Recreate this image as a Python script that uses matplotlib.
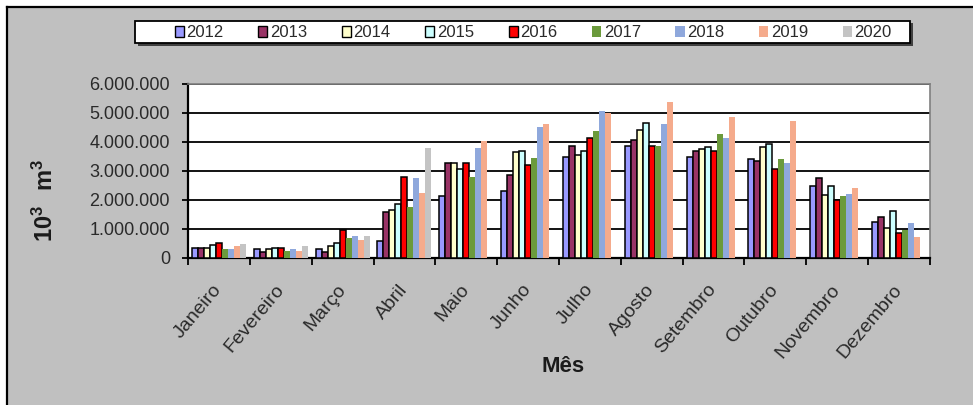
import numpy as np
import matplotlib.pyplot as plt
from matplotlib.patches import Rectangle, Patch
from matplotlib.ticker import FuncFormatter, FixedLocator

plt.rcParams['font.family'] = ['Liberation Sans', 'DejaVu Sans']
plt.rcParams['mathtext.fontset'] = 'custom'
plt.rcParams['mathtext.rm'] = 'Liberation Sans'
plt.rcParams['mathtext.bf'] = 'Liberation Sans:bold'

meses = ['Janeiro', 'Fevereiro', 'Março', 'Abril', 'Maio', 'Junho', 'Julho',
         'Agosto', 'Setembro', 'Outubro', 'Novembro', 'Dezembro']
anos = ['2012', '2013', '2014', '2015', '2016', '2017', '2018', '2019', '2020']

# volumes mensais (10^3 m^3)
v2012 = [345000, 290000, 290000, 560000, 2140000, 2290000, 3490000, 3850000, 3470000, 3400000, 2470000, 1240000]
v2013 = [345000, 200000, 200000, 1560000, 3280000, 2850000, 3850000, 4070000, 3680000, 3330000, 2760000, 1400000]
v2014 = [330000, 280000, 410000, 1630000, 3280000, 3640000, 3550000, 4410000, 3750000, 3820000, 2160000, 1030000]
v2015 = [420000, 340000, 500000, 1840000, 3060000, 3700000, 3700000, 4640000, 3820000, 3910000, 2470000, 1610000]
v2016 = [500000, 340000, 940000, 2780000, 3280000, 3210000, 4140000, 3840000, 3700000, 3050000, 1980000, 830000]
v2017 = [310000, 240000, 660000, 1750000, 2800000, 3450000, 4370000, 3870000, 4280000, 3410000, 2130000, 940000]
v2018 = [310000, 310000, 750000, 2750000, 3800000, 4530000, 5080000, 4600000, 4140000, 3280000, 2210000, 1200000]
v2019 = [390000, 240000, 600000, 2230000, 4020000, 4600000, 4990000, 5370000, 4850000, 4710000, 2410000, 720000]
v2020 = [460000, 390000, 750000, 3790000, np.nan, np.nan, np.nan, np.nan, np.nan, np.nan, np.nan, np.nan]

series = [v2012, v2013, v2014, v2015, v2016, v2017, v2018, v2019, v2020]
cores = ['#9999ff', '#993366', '#ffffcc', '#ccffff', '#ff0000',
         '#6b9a3c', '#8fa8dc', '#f5ab8c', '#c4c4c4']
com_borda = [True, True, True, True, True, False, False, False, False]

W, H = 973, 405
fig = plt.figure(figsize=(W / 100, H / 100), dpi=100)
fig.patch.set_facecolor('white')

# fundo cinza da area do grafico
fig.add_artist(Rectangle((7 / W, 0), 1, (H - 7) / H, transform=fig.transFigure,
                         facecolor='#c0c0c0', edgecolor='none', zorder=-10))
fig.add_artist(plt.Line2D([7 / W, 1], [(H - 7) / H] * 2, color='black', lw=1.6, zorder=-5))
fig.add_artist(plt.Line2D([7 / W] * 2, [0, (H - 7) / H], color='black', lw=1.6, zorder=-5))

# caixa da legenda com sombra
fig.add_artist(Rectangle((138 / W, 1 - 45.5 / H), 775 / W, 22 / H, transform=fig.transFigure,
                         facecolor='#404040', edgecolor='none', zorder=-4))
fig.add_artist(Rectangle((135 / W, 1 - 42.7 / H), 775 / W, 22 / H, transform=fig.transFigure,
                         facecolor='white', edgecolor='black', lw=1.3, zorder=-3))

ax = fig.add_axes([188 / W, 147.5 / H, 742 / W, 173.5 / H])
ax.set_facecolor('white')

x = np.arange(len(meses))
w = 0.097
for j, (vals, cor, borda) in enumerate(zip(series, cores, com_borda)):
    ax.bar(x + (j - 4) * w, vals, width=w, color=cor,
           edgecolor='black' if borda else 'none', linewidth=1.1 if borda else 0,
           zorder=3, label=anos[j])

ax.set_xlim(-0.5, 11.5)
ax.set_ylim(0, 6000000)
ax.set_yticks(np.arange(0, 6000001, 1000000))
ax.yaxis.set_major_formatter(FuncFormatter(lambda v, p: f'{int(v):,}'.replace(',', '.')))
ax.yaxis.grid(True, color='black', linewidth=1.3, zorder=1)
ax.set_axisbelow(True)

ax.xaxis.set_major_locator(FixedLocator(x))
ax.xaxis.set_minor_locator(FixedLocator(np.arange(-0.5, 12, 1)))
ax.set_xticklabels(meses, rotation=50, ha='right', va='center', rotation_mode='anchor',
                   fontsize=14, color='#2a2a2a')
ax.tick_params(axis='x', which='major', length=0, pad=21)
ax.tick_params(axis='x', which='minor', length=5, width=1.3, direction='out', color='black')
ax.tick_params(axis='y', length=4, width=1.3, direction='out', pad=9, labelsize=13,
               labelcolor='#2a2a2a')

for s in ['top', 'right']:
    ax.spines[s].set_color('#808080')
    ax.spines[s].set_linewidth(1.2)
for s in ['left', 'bottom']:
    ax.spines[s].set_color('black')
    ax.spines[s].set_linewidth(1.6)

fig.text(45 / W, 1 - 200 / H, r'$\mathbf{10^3\ \ m^3}$', rotation=90, ha='center', va='center',
         fontsize=17, color='#1a1a1a')
fig.text(563 / W, 1 - 366 / H, 'Mês', ha='center', va='center',
         fontsize=16, fontweight='bold', color='#1a1a1a')

handles = [Patch(facecolor=c, edgecolor='black' if b else 'none', linewidth=1.0 if b else 0)
           for c, b in zip(cores, com_borda)]
leg = fig.legend(handles, anos, ncol=9, loc='lower left',
                 bbox_to_anchor=(172 / W, 1 - 42.7 / H, 722 / W, 22 / H),
                 mode='expand', frameon=False, fontsize=12, handlelength=0.55,
                 handleheight=0.6, handletextpad=0.15, borderpad=0.15, borderaxespad=0)
for t in leg.get_texts():
    t.set_color('#2a2a2a')

fig.savefig('out.png', dpi=100, facecolor=fig.get_facecolor())
